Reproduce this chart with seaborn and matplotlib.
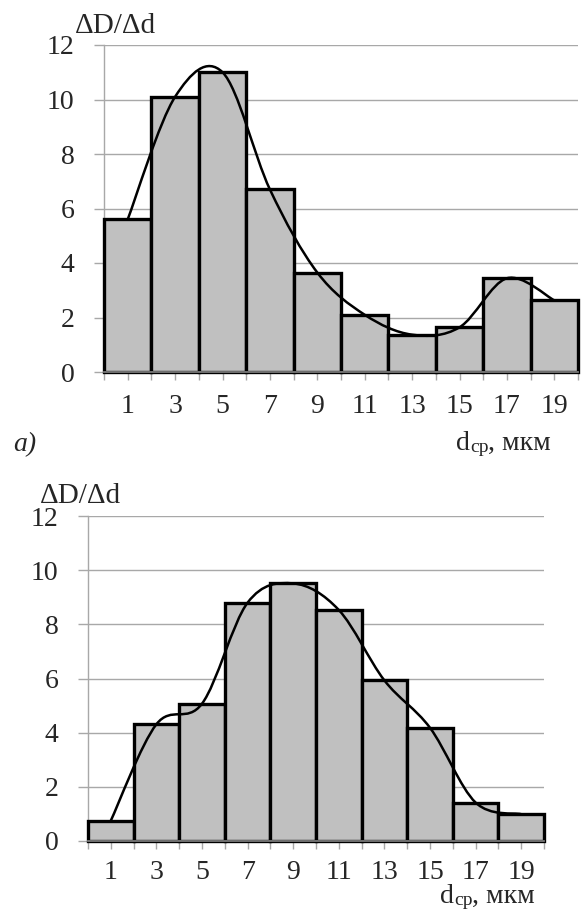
import numpy as np
import matplotlib
matplotlib.use("Agg")
import matplotlib.pyplot as plt
from matplotlib.path import Path
from matplotlib.patches import PathPatch
import seaborn as sns

# bar centres (d_ср, мкм), bins are 2 мкм wide
d_mid = [1, 3, 5, 7, 9, 11, 13, 15, 17, 19]
x_ticks = list(range(0, 21))
x_labels = ["" if t % 2 == 0 else str(t) for t in x_ticks]
y_ticks = [0, 2, 4, 6, 8, 10, 12]

# ΔD/Δd, panel a) and panel b)
dD_a = [5.6, 10.1, 11.0, 6.7, 3.65, 2.1, 1.37, 1.64, 3.44, 2.63]
dD_b = [0.75, 4.31, 5.07, 8.8, 9.51, 8.53, 5.93, 4.18, 1.42, 0.99]

sns.set_style("white")
plt.rcParams["font.family"] = ["Liberation Serif", "DejaVu Serif"]

BIG = 20
SMALL = 14
GRID = "#a8a8a8"


def smooth_path(xs, ys):
    # excel style smoothed line: cubic bezier through the points
    pts = np.column_stack([xs, ys]).astype(float)
    n = len(pts)
    verts = [pts[0]]
    codes = [Path.MOVETO]
    for i in range(n - 1):
        prev = pts[i - 1] if i > 0 else pts[i]
        nxt = pts[i + 2] if i + 2 < n else pts[i + 1]
        c1 = pts[i] + (pts[i + 1] - prev) / 6
        c2 = pts[i + 1] - (nxt - pts[i]) / 6
        verts += [c1, c2, pts[i + 1]]
        codes += [Path.CURVE4] * 3
    return Path(verts, codes)


def draw_panel(ax, values, xpad):
    sns.barplot(x=d_mid, y=values, native_scale=True, width=1, color="#c0c0c0",
                saturation=1, edgecolor="black", linewidth=2.4, errorbar=None, ax=ax)
    for p in ax.patches:
        p.set_clip_on(False)
        p.set_zorder(3)
    ax.add_patch(PathPatch(smooth_path(d_mid, values), facecolor="none",
                           edgecolor="black", lw=1.8, zorder=4, clip_on=False))

    ax.set_xlim(0, 20)
    ax.set_ylim(0, 12)
    ax.set_xticks(x_ticks)
    ax.set_xticklabels(x_labels)
    ax.set_yticks(y_ticks)
    ax.set_yticklabels([str(t) for t in y_ticks])
    ax.set_xlabel("")
    ax.set_ylabel("")

    ax.yaxis.grid(True, color=GRID, lw=1)
    ax.xaxis.grid(False)
    ax.set_axisbelow(True)
    sns.despine(ax=ax)
    ax.spines["left"].set_color(GRID)
    ax.spines["left"].set_linewidth(1)
    ax.spines["bottom"].set_color("#7a7a7a")
    ax.spines["bottom"].set_linewidth(1.3)
    ax.spines["bottom"].set_zorder(5)

    ax.tick_params(axis="y", direction="out", length=7.3, width=1, color=GRID,
                   pad=14, labelsize=BIG, left=True)
    ax.tick_params(axis="x", direction="out", length=5.8, width=1, color=GRID,
                   pad=xpad, labelsize=BIG, bottom=True)


def axis_name(fig, ax, x_px, y_px):
    # "dср, мкм" with small "ср"
    t1 = ax.text(x_px / 584, 1 - y_px / 910, "d", transform=fig.transFigure,
                 fontsize=BIG, ha="left", va="baseline")
    t2 = ax.annotate("ср", xy=(1, 0), xycoords=t1, fontsize=SMALL,
                     ha="left", va="bottom", annotation_clip=False)
    ax.annotate(", мкм", xy=(1, 0), xycoords=t2, fontsize=BIG,
                ha="left", va="bottom", annotation_clip=False)


fig = plt.figure(figsize=(5.84, 9.10), dpi=100)
ax_a = fig.add_axes([104 / 584, 1 - 372 / 910, 474 / 584, 327 / 910])
ax_b = fig.add_axes([88 / 584, 1 - 841 / 910, 456 / 584, 325 / 910])

draw_panel(ax_a, dD_a, 10)
draw_panel(ax_b, dD_b, 8)

fig.text(115 / 584, 1 - 33 / 910, "ΔD/Δd", fontsize=BIG + 1, ha="center", va="baseline")
fig.text(80 / 584, 1 - 503 / 910, "ΔD/Δd", fontsize=BIG + 1, ha="center", va="baseline")
fig.text(13 / 584, 1 - 451 / 910, "a)", fontsize=BIG, style="italic",
         ha="left", va="baseline")

axis_name(fig, ax_a, 456, 450)
axis_name(fig, ax_b, 440, 903)

fig.savefig("out.png", dpi=100)
